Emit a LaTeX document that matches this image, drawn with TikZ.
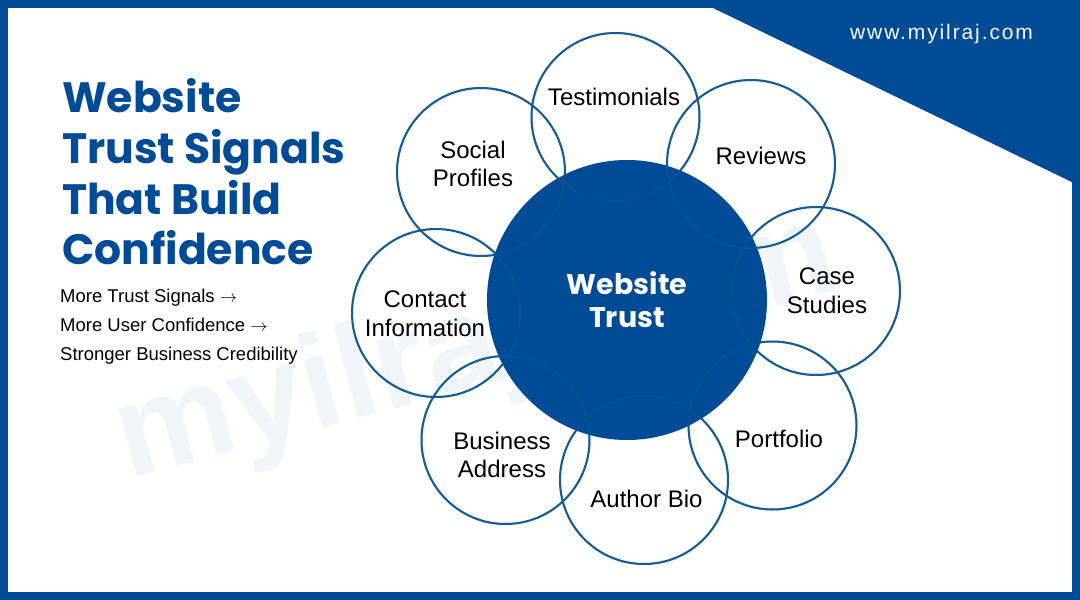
\documentclass[tikz,border=0pt]{standalone}
\usepackage{fontspec}
\setmainfont{Liberation Sans}
\newfontfamily\popfont{Poppins}
\newfontfamily\urlfont{Liberation Sans}[LetterSpace=9]
\definecolor{mainblue}{RGB}{0,75,150}
\definecolor{ringblue}{RGB}{22,92,145}
\definecolor{wmark}{RGB}{241,245,250}
\tikzset{
  ring/.style={circle, draw=ringblue, line width=2pt, minimum size=168pt, inner sep=0pt},
  ringover/.style={circle, draw=ringblue, draw opacity=0.35, line width=2pt, minimum size=168pt, inner sep=0pt},
  lab/.style={inner sep=0pt, align=center, text=black, font=\fontsize{24}{28.5}\selectfont},
  titleline/.style={anchor=base west, inner sep=0pt, text=mainblue, font=\popfont\bfseries\fontsize{42.5}{51}\selectfont},
  subline/.style={anchor=base west, inner sep=0pt, text=black, font=\fontsize{18.5}{22}\selectfont},
}
\begin{document}
\begin{tikzpicture}[x=1pt,y=-1pt]
\useasboundingbox (0,0) rectangle (1080,600);
\fill[white] (0,0) rectangle (1080,600);
% watermark
\node[anchor=base west, inner sep=0pt, rotate=15, text=wmark, font=\bfseries\fontsize{133}{140}\selectfont] (wm) at (128,480) {myilraj.com};
% top-right triangle
\fill[mainblue] (696.5,0) -- (1080,0) -- (1080,186) -- cycle;
\node[anchor=base west, inner sep=0pt, text=white, font=\urlfont\fontsize{21}{24}\selectfont] (url) at (850,39) {www.myilraj.com};
% outer rings (under)
\node[ring] (testi) at (615.5,117) {};
\node[ring] (rev) at (751,164) {};
\node[ring] (case) at (816,291) {};
\node[ring] (port) at (772.5,425.5) {};
\node[ring] (auth) at (644,480) {};
\node[ring] (bus) at (505.5,440) {};
\node[ring] (cont) at (436,313) {};
\node[ring] (soc) at (481,172) {};
% center
\node[circle, fill=mainblue, minimum size=280pt, inner sep=0pt] (hub) at (627,300) {};
% faint rings over the hub
\foreach \n in {testi,rev,case,port,auth,bus,cont,soc}
  \node[ringover] at (\n.center) {};
\node[text=white, align=center, inner sep=0pt, font=\popfont\bfseries\fontsize{28.5}{33}\selectfont] (hubtext) at (hub.center) {Website\\Trust};
% labels
\node[lab] (ltesti) at (614,97) {Testimonials};
\node[lab] (lrev) at (761,156) {Reviews};
\node[lab] (lcase) at (827,290.5) {Case\\Studies};
\node[lab] (lport) at (779,439) {Portfolio};
\node[lab] (lauth) at (646.5,499) {Author Bio};
\node[lab] (lbus) at (502,455) {Business\\Address};
\node[lab] (lcont) at (425,313.5) {Contact\\Information};
\node[lab] (lsoc) at (473,164) {Social\\Profiles};
% title
\node[titleline] (t1) at (62,112) {Website};
\node[titleline] (t2) at (62,163) {Trust Signals};
\node[titleline] (t3) at (62,214) {That Build};
\node[titleline] (t4) at (62,264) {Confidence};
% subtitle
\node[subline] (s1) at (60,302.3) {More Trust Signals $\rightarrow$};
\node[subline] (s2) at (60,331.7) {More User Confidence $\rightarrow$};
\node[subline] (s3) at (60,360.7) {Stronger Business Credibility};
% frame
\draw[mainblue, line width=8pt] (4,4) rectangle (1076,596);
\end{tikzpicture}
\end{document}
